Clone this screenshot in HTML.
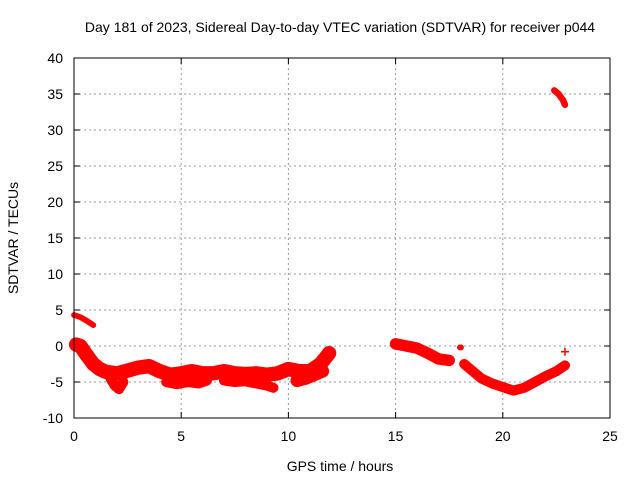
<!DOCTYPE html>
<html><head><meta charset="utf-8"><style>
body{margin:0;background:#fff;}
svg text{font-family:"Liberation Sans",sans-serif;font-size:14px;fill:#000;}
</style></head><body>
<svg id="chart" width="640" height="480" xmlns="http://www.w3.org/2000/svg">
<rect width="640" height="480" fill="#fff"/>
<text x="340" y="32" text-anchor="middle">Day 181 of 2023, Sidereal Day-to-day VTEC variation (SDTVAR) for receiver p044</text>
<g id="grid"></g><g id="ticks"></g><g id="series"></g>
<rect x="74" y="58" width="536" height="360" fill="none" stroke="#000" stroke-width="1"/>
<text x="340" y="471" text-anchor="middle">GPS time / hours</text>
<text transform="translate(18,238) rotate(-90)" text-anchor="middle">SDTVAR / TECUs</text>
</svg>
<script>
const xTicks=[0,5,10,15,20,25];
const yTicks=[-10,-5,0,5,10,15,20,25,30,35,40];
// tracks: hours and SDTVAR values, with band thickness in TECU
const trackHours=[
 [0,0.3,0.6,0.9],
 [0.1,0.3,0.6,0.9,1.2,1.5,2,2.4,3,3.5,4,4.5,5,5.5,6,6.5,7,7.5,8,8.5,9,9.5,10,10.5,11,11.5,11.9],
 [1.7,1.9,2.1,2.3],
 [4.3,4.8,5.3,5.8,6.2],
 [7,7.5,8,8.5,9,9.3],
 [10.4,10.8,11.2,11.6],
 [15,15.5,16,16.5,17,17.5],
 [18.2,18.6,19,19.5,20,20.5,21,21.5,22,22.5,22.9],
 [22.4,22.6,22.8,22.9],
 [18,18.05]
];
const trackValues=[
 [4.3,4,3.5,2.9],
 [0.2,0,-1.3,-2.5,-3.2,-3.6,-3.8,-3.5,-3,-2.8,-3.5,-4,-3.8,-3.5,-3.8,-3.8,-3.5,-3.8,-3.9,-3.8,-4,-3.8,-3.2,-3.5,-3.5,-2.5,-1],
 [-4.5,-5.5,-6,-5],
 [-5,-5.3,-5,-5.2,-4.8],
 [-4.8,-5,-4.9,-5.2,-5.5,-5.8],
 [-4.8,-4.5,-4,-3.5],
 [0.3,0,-0.3,-1,-1.8,-2],
 [-2.5,-3.5,-4.5,-5.2,-5.7,-6.2,-5.8,-5,-4.2,-3.5,-2.7],
 [35.5,35,34.2,33.5],
 [-0.2,-0.2]
];
const trackWidth=[0.8,2.0,1.4,1.4,1.4,1.8,1.6,1.4,0.9,0.8];
const singlePoints=[[22.9,-0.8]];
const X=h=>74+h*536/25, Y=v=>346-v*7.2;
const ns="http://www.w3.org/2000/svg";
function mk(t,a,p){const e=document.createElementNS(ns,t);for(const k in a)e.setAttribute(k,a[k]);p.appendChild(e);return e;}
const grid=document.getElementById('grid'),ticks=document.getElementById('ticks'),series=document.getElementById('series');
xTicks.forEach(t=>{const x=X(t);
 if(t>0&&t<25){const l=mk('line',{x1:x,x2:x,y1:58,y2:418,stroke:'#999','stroke-dasharray':'2,3'},grid);
 
 }
 mk('line',{x1:x,x2:x,y1:418,y2:412,stroke:'#000'},ticks);mk('line',{x1:x,x2:x,y1:58,y2:64,stroke:'#000'},ticks);
 const tx=mk('text',{x:x,y:441,'text-anchor':'middle'},ticks);tx.textContent=t;
 
 });
yTicks.forEach(t=>{const y=Y(t);
 if(t>-10&&t<40){const l=mk('line',{x1:74,x2:610,y1:y,y2:y,stroke:'#999','stroke-dasharray':'2,3'},grid);
 
 }
 mk('line',{x1:74,x2:80,y1:y,y2:y,stroke:'#000'},ticks);mk('line',{x1:610,x2:604,y1:y,y2:y,stroke:'#000'},ticks);
 const tx=mk('text',{x:63,y:y+5,'text-anchor':'end'},ticks);tx.textContent=t;
 
 });
trackHours.forEach((hs,i)=>{
 const pts=hs.map((h,j)=>X(h)+','+Y(trackValues[i][j])).join(' ');
 const pl=mk('polyline',{points:pts,fill:'none',stroke:'#f00','stroke-width':trackWidth[i]*7.2,'stroke-linejoin':'round','stroke-linecap':'round'},series);
 
 
});
singlePoints.forEach(p=>{const x=X(p[0]),y=Y(p[1]);
 const g=mk('path',{d:`M${x-4},${y}H${x+4}M${x},${y-4}V${y+4}`,stroke:'#f00','stroke-width':1.5},series);
 
 });
</script>
</body></html>
